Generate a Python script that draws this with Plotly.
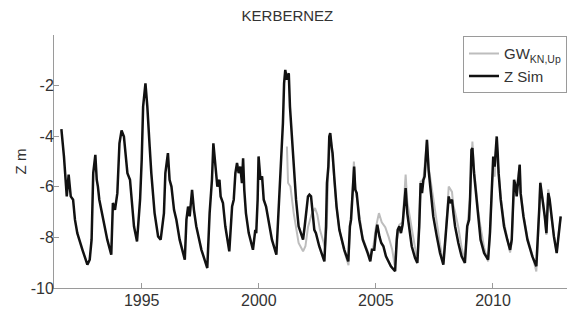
import plotly.graph_objects as go

# ---- Z Sim (simulated water table, m) ----
sim_year = [
    1991.57, 1991.68, 1991.80, 1991.88, 1991.97, 1992.07, 1992.15, 1992.25, 1992.47, 1992.68,
    1992.78, 1992.86, 1992.93, 1993.02, 1993.08, 1993.13, 1993.19, 1993.25, 1993.36, 1993.53,
    1993.70, 1993.77, 1993.86, 1993.96, 1994.05, 1994.14, 1994.24, 1994.30, 1994.39, 1994.50,
    1994.67, 1994.80, 1994.93, 1995.00,
    1995.06, 1995.16, 1995.24, 1995.34, 1995.41, 1995.55, 1995.70, 1995.81, 1995.95, 1996.01,
    1996.12, 1996.19, 1996.27, 1996.38, 1996.48, 1996.62, 1996.84, 1996.91, 1996.98, 1997.05,
    1997.15, 1997.23, 1997.33, 1997.55, 1997.80, 1997.90, 1998.00, 1998.06, 1998.14, 1998.23,
    1998.32, 1998.37, 1998.47,
    1998.57, 1998.74, 1998.86, 1998.93, 1999.00, 1999.07, 1999.14, 1999.21, 1999.28, 1999.33,
    1999.38, 1999.45, 1999.57, 1999.75, 1999.85, 1999.89, 1999.95, 1999.99, 2000.07, 2000.14,
    2000.21, 2000.31, 2000.42, 2000.56, 2000.75, 2000.85, 2000.93, 2000.99, 2001.03, 2001.08,
    2001.13, 2001.20, 2001.28, 2001.33, 2001.42, 2001.49, 2001.59, 2001.70, 2001.82, 2001.89,
    2001.96, 2002.03, 2002.10,
    2002.16, 2002.23, 2002.30, 2002.37, 2002.44, 2002.58, 2002.80, 2002.87, 2002.91, 2002.97,
    2003.01, 2003.05, 2003.11, 2003.15, 2003.23, 2003.32, 2003.44, 2003.65, 2003.82, 2003.89,
    2003.94, 2004.01, 2004.07, 2004.12, 2004.18, 2004.29, 2004.44, 2004.65, 2004.76, 2004.83,
    2004.93, 2005.00, 2005.06, 2005.15, 2005.23, 2005.32, 2005.43, 2005.64,
    2005.74, 2005.82, 2005.89, 2005.93, 2006.00, 2006.07, 2006.14, 2006.20, 2006.27, 2006.34,
    2006.43, 2006.53, 2006.67, 2006.77, 2006.85, 2006.91, 2006.97, 2007.03, 2007.08, 2007.14,
    2007.18, 2007.25, 2007.34, 2007.45, 2007.60, 2007.74, 2007.88, 2007.98, 2008.05, 2008.11,
    2008.16, 2008.25, 2008.31, 2008.38, 2008.52, 2008.66, 2008.80, 2008.90, 2008.98, 2009.02,
    2009.08, 2009.12, 2009.19, 2009.27,
    2009.36, 2009.47, 2009.62, 2009.79, 2009.87, 2009.93, 2009.97, 2010.01, 2010.07, 2010.11,
    2010.16, 2010.20, 2010.24, 2010.33, 2010.47, 2010.61, 2010.73, 2010.80, 2010.85, 2010.90,
    2010.97, 2011.01, 2011.08, 2011.14, 2011.18, 2011.30, 2011.47, 2011.68, 2011.85, 2011.92,
    2011.98, 2012.02, 2012.08, 2012.13, 2012.21, 2012.28, 2012.32, 2012.36, 2012.42, 2012.49,
    2012.60, 2012.72, 2012.78, 2012.83, 2012.89,
]
sim_z = [
    -3.72, -4.80, -6.38, -5.52, -6.38, -6.51, -7.30, -7.83, -8.49, -9.08,
    -8.88, -8.09, -5.46, -4.74, -5.72, -5.99, -6.51, -6.78, -7.30, -8.09,
    -8.68, -6.64, -6.91, -6.25, -4.28, -3.77, -4.01, -4.54, -5.46, -5.72,
    -7.56, -8.16, -6.51, -4.93,
    -2.83, -1.91, -2.83, -4.41, -5.46, -7.04, -7.96, -8.09, -7.04, -5.46,
    -4.67, -5.72, -5.99, -6.91, -7.30, -8.09, -8.88, -7.30, -6.78, -7.17,
    -6.12, -6.91, -7.56, -8.49, -9.21, -7.04, -5.72, -4.28, -5.20, -5.99,
    -5.72, -6.38, -6.64,
    -7.56, -8.55, -6.78, -6.51, -5.46, -5.06, -5.46, -5.20, -5.85, -4.87,
    -6.12, -7.04, -7.83, -8.49, -7.70, -7.83, -6.51, -4.80, -5.72, -5.59,
    -6.51, -6.78, -7.30, -8.09, -8.68, -6.78, -5.20, -4.14, -3.49, -1.91,
    -1.38, -1.77, -1.51, -2.83, -4.14, -5.46, -6.51, -7.56, -7.96, -8.09,
    -7.56, -7.04, -6.38,
    -6.31, -6.38, -7.04, -7.70, -7.83, -8.35, -8.95, -7.56, -5.85, -5.20,
    -4.01, -3.88, -4.41, -4.67, -5.72, -6.78, -7.70, -8.49, -8.95, -7.56,
    -7.30, -6.12, -5.20, -6.12, -6.25, -7.30, -8.09, -8.62, -8.95, -8.49,
    -8.49, -7.83, -7.50, -7.96, -8.22, -8.35, -8.75, -9.14,
    -9.27, -9.34, -8.09, -7.70, -7.56, -7.83, -7.50, -6.78, -6.05, -7.04,
    -7.70, -8.35, -8.81, -9.01, -7.56, -5.85, -6.25, -5.72, -5.59, -4.41,
    -4.14, -5.33, -6.12, -7.17, -7.96, -8.62, -9.08, -7.96, -6.91, -6.38,
    -6.64, -6.51, -7.04, -7.56, -8.22, -8.75, -9.01, -7.56, -7.30, -6.51,
    -4.54, -4.47, -5.46, -6.25,
    -7.30, -8.09, -8.62, -8.88, -7.83, -6.38, -5.46, -4.80, -5.20, -4.41,
    -4.01, -4.67, -5.46, -6.51, -7.56, -8.09, -8.49, -8.09, -6.51, -5.72,
    -5.99, -6.38, -5.72, -5.13, -6.25, -7.17, -8.09, -8.75, -9.14, -8.09,
    -6.78, -5.85, -6.25, -6.51, -7.17, -7.83, -6.91, -6.25, -6.51, -7.17,
    -7.96, -8.62, -8.09, -7.56, -7.17,
]

# ---- GW KN,Up (observed groundwater level, m) ----
gw_year = [
    2001.20, 2001.25, 2001.35, 2001.49, 2001.70, 2001.89, 2001.99, 2002.10, 2002.25, 2002.40,
    2002.50, 2002.61, 2002.83, 2002.90, 2002.97, 2003.05, 2003.11, 2003.22, 2003.32, 2003.44,
    2003.65, 2003.83, 2003.90, 2004.01, 2004.06, 2004.12, 2004.29, 2004.43, 2004.65, 2004.76,
    2004.90, 2005.00, 2005.13, 2005.25, 2005.40, 2005.55, 2005.70, 2005.80, 2005.89, 2006.00,
    2006.14, 2006.27, 2006.34, 2006.45, 2006.55, 2006.67, 2006.77, 2006.85, 2006.91, 2007.03,
    2007.14, 2007.18, 2007.25, 2007.34, 2007.45, 2007.60, 2007.74, 2007.88, 2007.98, 2008.05,
    2008.11, 2008.25, 2008.30, 2008.38, 2008.52, 2008.66, 2008.80, 2008.90, 2009.02, 2009.12,
    2009.19, 2009.27, 2009.36, 2009.47, 2009.62, 2009.79, 2009.87, 2009.97, 2010.02, 2010.07,
    2010.11, 2010.16, 2010.20, 2010.24, 2010.33, 2010.47, 2010.61, 2010.73, 2010.80, 2010.85,
    2010.90, 2010.97, 2011.08, 2011.14, 2011.18, 2011.30, 2011.47, 2011.68, 2011.85, 2011.92,
    2011.98, 2012.02, 2012.08, 2012.13, 2012.20, 2012.28, 2012.32, 2012.36, 2012.42, 2012.49,
    2012.60, 2012.72, 2012.78, 2012.83, 2012.89,
]
gw_z = [
    -4.41, -5.85, -5.99, -7.04, -8.22, -8.55, -8.35, -7.60, -7.10, -6.84,
    -7.10, -7.70, -8.40, -7.60, -5.30, -3.95, -4.40, -5.70, -6.80, -7.70,
    -8.55, -9.10, -7.60, -6.10, -5.00, -6.00, -7.20, -8.00, -8.55, -8.80,
    -8.30, -7.60, -7.04, -7.40, -7.60, -8.00, -8.50, -9.10, -8.20, -7.50,
    -7.40, -5.52, -6.60, -7.20, -7.80, -8.50, -8.95, -7.60, -5.80, -5.70,
    -4.30, -4.14, -5.20, -5.80, -6.60, -7.40, -8.30, -9.00, -7.90, -6.70,
    -5.99, -6.20, -6.70, -7.00, -7.60, -8.40, -8.95, -7.60, -6.40, -4.21,
    -5.30, -6.00, -6.90, -7.60, -8.40, -8.95, -7.90, -5.80, -5.20, -5.60,
    -4.60, -4.10, -5.00, -5.50, -6.40, -7.40, -8.00, -8.60, -8.20, -6.70,
    -5.80, -6.10, -5.60, -5.10, -6.20, -7.10, -8.00, -8.70, -9.35, -8.10,
    -6.80, -5.80, -6.30, -6.50, -7.10, -7.90, -6.90, -6.10, -6.50, -7.20,
    -7.90, -8.60, -8.00, -7.50, -7.20,
]

x_ticks = [1995, 2000, 2005, 2010]
y_ticks = [-10, -8, -6, -4, -2]

FONT = "Liberation Sans, Arial, sans-serif"

fig = go.Figure()
fig.add_trace(go.Scatter(
    x=gw_year, y=gw_z, mode="lines", name="GW<sub>KN,Up</sub>",
    line=dict(color="#bdbdbd", width=2),
))
fig.add_trace(go.Scatter(
    x=sim_year, y=sim_z, mode="lines", name="Z Sim",
    line=dict(color="#111111", width=2.5),
))

axis_common = dict(
    showgrid=False, zeroline=False, showline=True, linecolor="#9a9a9a", linewidth=1,
    ticks="inside", ticklen=5, tickcolor="#9a9a9a",
    tickfont=dict(family=FONT, size=16, color="#333333"),
)

fig.update_layout(
    width=569, height=313,
    margin=dict(l=54, r=2, t=35, b=25, autoexpand=False),
    paper_bgcolor="white", plot_bgcolor="white",
    title=dict(text="KERBERNEZ", x=0.455, xref="paper", xanchor="center",
               y=0.95, yanchor="middle",
               font=dict(family=FONT, size=15, color="#333333")),
    showlegend=True,
    legend=dict(x=1.0, xanchor="right", y=0.995, yanchor="top",
                bordercolor="#9a9a9a", borderwidth=1, bgcolor="white",
                font=dict(family=FONT, size=15, color="#333333"),
                itemwidth=30, tracegroupgap=0),
    xaxis=dict(range=[1991.255, 2013.16], tickvals=x_ticks,
               ticktext=[str(v) for v in x_ticks], ticklabelstandoff=-2,
               **axis_common),
    yaxis=dict(range=[-10, 0], tickvals=y_ticks,
               ticktext=[str(v) for v in y_ticks], ticklabelstandoff=-4,
               title=dict(text="Z m", font=dict(family=FONT, size=15, color="#333333"),
                          standoff=0),
               **axis_common),
)

fig.write_html("out.html", config={"displayModeBar": False},
               post_script="document.body.style.margin='0';document.body.style.padding='0';")
